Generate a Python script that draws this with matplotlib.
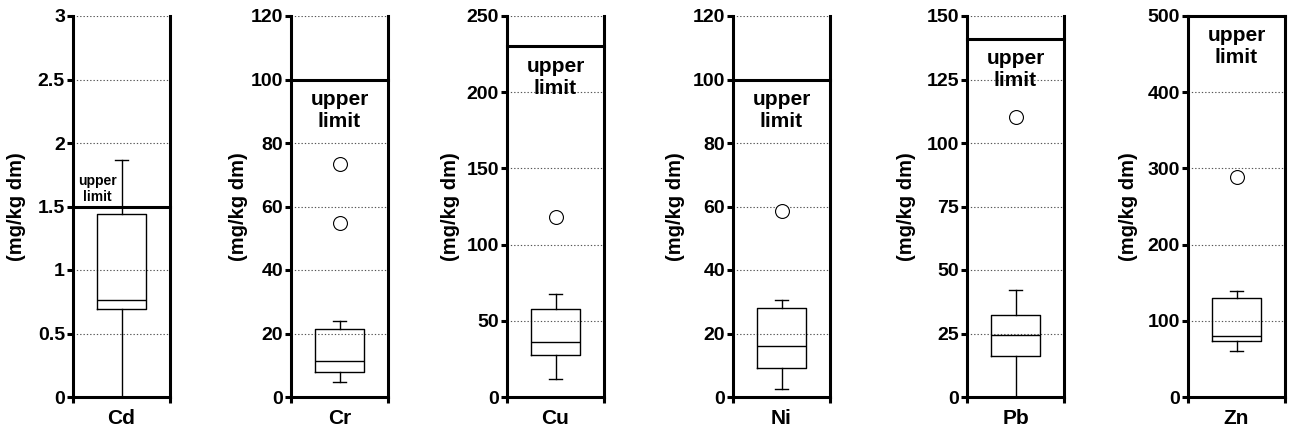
import matplotlib
matplotlib.use("Agg")
import matplotlib.pyplot as plt
from matplotlib.ticker import MultipleLocator, FuncFormatter

# ---- data ----
elements = ["Cd", "Cr", "Cu", "Ni", "Pb", "Zn"]
whisker_low = [0.0, 4.8, 12.0, 2.5, 0.0, 60.4]
q1 = [0.69, 8.0, 27.6, 9.1, 16.0, 73.5]
median = [0.765, 11.3, 35.9, 16.1, 24.4, 79.6]
q3 = [1.44, 21.4, 57.5, 28.1, 32.4, 130.3]
whisker_high = [1.87, 24.0, 67.6, 30.6, 42.0, 139.0]
outliers = [[], [73.3, 54.7], [118.3], [58.7], [110.1], [289.0]]
upper_limit = [1.5, 100, 230, 100, 141, 500]
y_max = [3, 120, 250, 120, 150, 500]
y_step = [0.5, 20, 50, 20, 25, 100]
y_label = "(mg/kg dm)"
limit_label = "upper\nlimit"

# ---- layout (pixels) ----
W, H = 1293, 437
ax_left_px = [73, 291, 507, 733, 967, 1188]
ax_width_px = 97
ax_top_px, ax_bottom_px = 16, 397
ylabel_x_px = [17, 238, 450, 675, 907, 1128]

plt.rcParams['font.family'] = ['Liberation Sans', 'DejaVu Sans']
plt.rcParams['font.weight'] = 'bold'

fig = plt.figure(figsize=(W / 100, H / 100), dpi=100)
SPINE_LW = 2.2
fmt = FuncFormatter(lambda v, p: f"{v:g}")

for i, el in enumerate(elements):
    ax = fig.add_axes([ax_left_px[i] / W, (H - ax_bottom_px) / H,
                       ax_width_px / W, (ax_bottom_px - ax_top_px) / H])
    ax.set_xlim(0, 1)
    ax.set_ylim(0, y_max[i])
    ax.yaxis.set_major_locator(MultipleLocator(y_step[i]))
    ax.yaxis.set_major_formatter(fmt)
    ax.set_xticks([0, 1])
    ax.set_xticklabels([])
    ax.tick_params(axis='x', direction='out', length=4.3, width=SPINE_LW)
    ax.tick_params(axis='y', direction='out', length=4.3, width=SPINE_LW,
                   labelsize=14, pad=1.5)
    for lab in ax.get_yticklabels():
        lab.set_fontweight('bold')
    ax.spines['top'].set_visible(False)
    for s in ('left', 'right', 'bottom'):
        ax.spines[s].set_linewidth(SPINE_LW)
    ax.grid(axis='y', color='#555555', linestyle=(0, (1.2, 1.8)), linewidth=0.8)
    ax.set_axisbelow(True)

    stats = [dict(med=median[i], q1=q1[i], q3=q3[i],
                  whislo=whisker_low[i], whishi=whisker_high[i],
                  fliers=outliers[i])]
    ax.bxp(stats, positions=[0.5], widths=0.5, capwidths=0.134,
           boxprops=dict(color='black', linewidth=1.0),
           medianprops=dict(color='black', linewidth=1.0),
           whiskerprops=dict(color='black', linewidth=1.0),
           capprops=dict(color='black', linewidth=1.0),
           flierprops=dict(marker='o', markersize=10, markerfacecolor='white',
                           markeredgecolor='black', markeredgewidth=0.8),
           manage_ticks=False)

    ax.axhline(upper_limit[i], color='black', linewidth=SPINE_LW, clip_on=False, zorder=5)

    if el == "Cd":
        ax.annotate(limit_label, xy=(0.25, upper_limit[i]),
                    xycoords=('axes fraction', 'data'),
                    xytext=(0, 1.5), textcoords='offset points',
                    ha='center', va='bottom', fontsize=10, fontweight='bold',
                    linespacing=1.2)
    else:
        ax.annotate(limit_label, xy=(0.5, upper_limit[i]),
                    xycoords=('axes fraction', 'data'),
                    xytext=(0, -7.5), textcoords='offset points',
                    ha='center', va='top', fontsize=15, fontweight='bold',
                    linespacing=1.2)

    ax.text(0.5, -(418 - ax_bottom_px) / (ax_bottom_px - ax_top_px), el,
            transform=ax.transAxes, ha='center', va='center',
            fontsize=15, fontweight='bold')

    fig.text(ylabel_x_px[i] / W, 1 - (ax_top_px + ax_bottom_px) / 2 / H, y_label,
             rotation=90, ha='center', va='center', fontsize=14.5, fontweight='bold')

fig.savefig("out.png", dpi=100)
